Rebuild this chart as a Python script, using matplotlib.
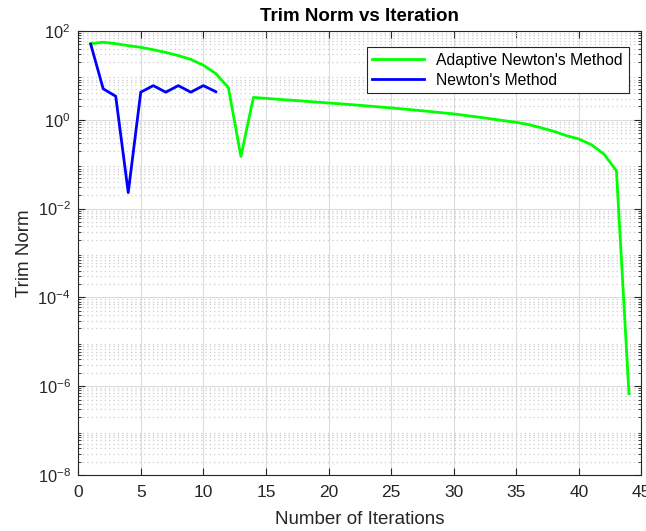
import matplotlib
matplotlib.use("Agg")
import matplotlib.pyplot as plt
from matplotlib.ticker import LogLocator, FixedLocator

plt.rcParams['font.family'] = ['Liberation Sans', 'DejaVu Sans']
plt.rcParams['mathtext.fontset'] = 'custom'
plt.rcParams['mathtext.rm'] = 'Liberation Sans'
plt.rcParams['mathtext.it'] = 'Liberation Sans'
plt.rcParams['mathtext.default'] = 'regular'

# iteration counts and trim norms
adaptiveIter = list(range(1, 45))
adaptiveNorm = [52, 56, 52, 47, 43, 38, 33, 28, 23, 17, 11, 5.3, 0.15, 3.2,
                3.05, 2.9, 2.77, 2.64, 2.52, 2.40, 2.29, 2.18, 2.07, 1.96,
                1.86, 1.75, 1.65, 1.55, 1.45, 1.36, 1.25, 1.15, 1.05, 0.96,
                0.88, 0.78, 0.66, 0.55, 0.44, 0.37, 0.275, 0.17, 0.071, 6.8e-7]

newtonIter = list(range(1, 12))
newtonNorm = [51, 5.0, 3.4, 0.023, 4.2, 5.9, 4.2, 5.9, 4.2, 5.9, 4.3]

xTicks = [0, 5, 10, 15, 20, 25, 30, 35, 40, 45]
yExp = [-8, -6, -4, -2, 0, 2]

fig = plt.figure(figsize=(6.46, 5.31), dpi=100)
ax = fig.add_axes([0.121, 0.1055, 0.872, 0.836])

ax.semilogy(adaptiveIter, adaptiveNorm, color=(0, 1, 0), lw=2, label="Adaptive Newton's Method")
ax.semilogy(newtonIter, newtonNorm, color=(0, 0, 1), lw=2, label="Newton's Method")

ax.set_xlim(0, 45)
ax.set_ylim(1e-8, 1e2)
ax.xaxis.set_major_locator(FixedLocator(xTicks))
ax.yaxis.set_major_locator(FixedLocator([10.0**e for e in yExp]))
ax.yaxis.set_minor_locator(LogLocator(base=10, subs=range(2, 10), numticks=20))
ax.set_yticklabels([r'$10^{%d}$' % e for e in yExp])

ax.grid(True, which='major', color='#dcdcdc', lw=0.8, ls='-')
ax.grid(True, which='minor', axis='y', color='#cccccc', lw=0.9, ls=(0, (1, 2.5)))
ax.set_axisbelow(True)

ax.tick_params(which='both', direction='in', top=True, right=True, colors='#262626')
ax.tick_params(axis='x', labelsize=12.5, pad=7)
ax.tick_params(axis='y', labelsize=11.8, pad=5.5)
ax.tick_params(which='major', length=5, width=0.8)
ax.tick_params(which='minor', length=2.5, width=0.6)
for s in ax.spines.values():
    s.set_color('#262626')
    s.set_linewidth(0.8)

ax.set_title('Trim Norm vs Iteration', fontsize=13.5, fontweight='bold', pad=7)
ax.set_xlabel('Number of Iterations', fontsize=13.5, color='#262626', labelpad=8)
ax.set_ylabel('Trim Norm', fontsize=13.5, color='#262626', labelpad=3)

leg = ax.legend(loc='upper right', bbox_to_anchor=(0.977, 0.963), borderaxespad=0,
                fontsize=11.3, fancybox=False, edgecolor='#262626', framealpha=1,
                handlelength=3.3, borderpad=0.35, labelspacing=0.3)
leg.get_frame().set_linewidth(0.8)

fig.savefig('out.png', dpi=100)
